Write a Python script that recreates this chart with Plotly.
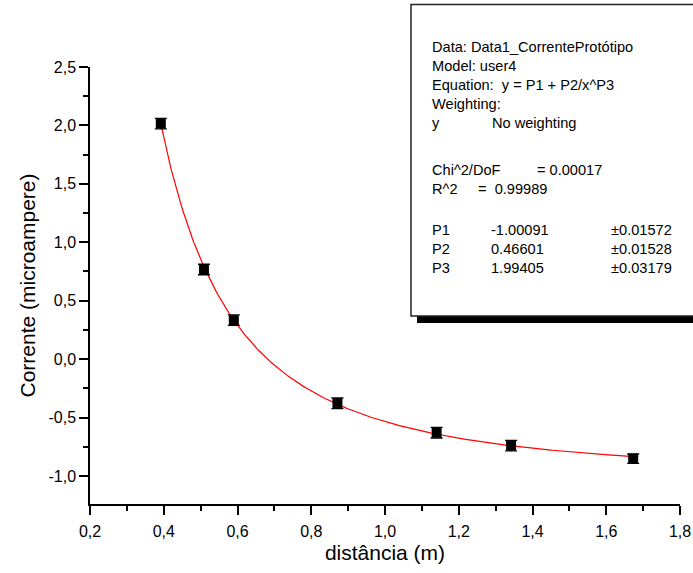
import numpy as np
import plotly.graph_objects as go

# ---- data ----
dist_m = [0.392, 0.509, 0.590, 0.871, 1.140, 1.342, 1.673]
corrente_uA = [2.016, 0.767, 0.333, -0.378, -0.630, -0.740, -0.852]
erro_uA = [0.045, 0.045, 0.045, 0.045, 0.045, 0.045, 0.04]

# fit parameters printed in the chart (y = P1 + P2/x^P3)
P1, P2, P3 = -1.00091, 0.46601, 1.99405

x_ticks = [0.2, 0.4, 0.6, 0.8, 1.0, 1.2, 1.4, 1.6, 1.8]
x_ticktext = ["0,2", "0,4", "0,6", "0,8", "1,0", "1,2", "1,4", "1,6", "1,8"]
y_ticks = [-1.0, -0.5, 0.0, 0.5, 1.0, 1.5, 2.0, 2.5]
y_ticktext = ["-1,0", "-0,5", "0,0", "0,5", "1,0", "1,5", "2,0", "2,5"]
x_minor = [0.3, 0.5, 0.7, 0.9, 1.1, 1.3, 1.5, 1.7]
y_minor = [-0.75, -0.25, 0.25, 0.75, 1.25, 1.75, 2.25]

legend_left = [
    ("Data: Data1_CorrenteProtótipo", 47),
    ("Model: user4", 66),
    ("Equation:  y = P1 + P2/x^P3", 85),
    ("Weighting:", 104),
    ("y", 123),
    ("Chi^2/DoF", 170),
    ("R^2", 189),
    ("P1", 230),
    ("P2", 249),
    ("P3", 268),
]
legend_col2 = [
    ("No weighting", 123, 490),
    ("= 0.00017", 170, 535),
    ("=  0.99989", 189, 476),
    ("-1.00091", 230, 489),
    ("0.46601", 249, 489),
    ("1.99405", 268, 489),
    ("±0.01572", 230, 609),
    ("±0.01528", 249, 609),
    ("±0.03179", 268, 609),
]

FONT = "Liberation Sans, Arial, sans-serif"

W, H = 693, 573
L, R, T, B = 90, 13, 67, 69
pw = W - L - R
ph = H - T - B


def px(xp):
    return (xp - L) / pw


def py(yp):
    return (H - B - yp) / ph


xfit = np.linspace(min(dist_m), max(dist_m), 300)
yfit = P1 + P2 / xfit ** P3

fig = go.Figure()
fig.add_trace(go.Scatter(
    x=xfit, y=yfit, mode="lines",
    line=dict(color="#ff0000", width=1.2), hoverinfo="skip", showlegend=False))
fig.add_trace(go.Scatter(
    x=dist_m, y=corrente_uA, mode="markers",
    marker=dict(symbol="square", size=10, color="black"),
    error_y=dict(type="data", array=erro_uA, color="black", thickness=1.3, width=6),
    showlegend=False))

shapes = [
    dict(type="rect", xref="paper", yref="paper",
         x0=px(417), x1=px(720), y0=py(323), y1=py(316),
         fillcolor="black", line=dict(width=0), layer="above"),
    dict(type="rect", xref="paper", yref="paper",
         x0=px(411), x1=px(720), y0=py(316), y1=py(4.5),
         fillcolor="white", line=dict(color="#222222", width=1.5), layer="above"),
]

annotations = []
for txt, yy in legend_left:
    annotations.append(dict(text=txt, xref="paper", yref="paper", x=px(430), y=py(yy),
                            xanchor="left", yanchor="middle", showarrow=False,
                            font=dict(family=FONT, size=14.6, color="black")))
for txt, yy, xx in legend_col2:
    annotations.append(dict(text=txt, xref="paper", yref="paper", x=px(xx), y=py(yy),
                            xanchor="left", yanchor="middle", showarrow=False,
                            font=dict(family=FONT, size=14.6, color="black")))

fig.update_layout(
    width=W, height=H,
    margin=dict(l=L, r=R, t=T, b=B),
    paper_bgcolor="white", plot_bgcolor="white",
    font=dict(family=FONT, size=16, color="black"),
    shapes=shapes, annotations=annotations,
    xaxis=dict(range=[0.2, 1.8], showgrid=False, zeroline=False, automargin=False,
               showline=True, linecolor="black", linewidth=1.5,
               ticks="outside", ticklen=9, tickwidth=1.5, tickcolor="black",
               tickmode="array", tickvals=x_ticks, ticktext=x_ticktext,
               ticklabelstandoff=3,
               minor=dict(tickvals=x_minor, ticklen=5, tickwidth=1.5, tickcolor="black", ticks="outside"),
               title=dict(text="distância (m)", font=dict(size=21), standoff=6),
               tickfont=dict(size=16)),
    yaxis=dict(range=[-1.24, 2.5], showgrid=False, zeroline=False, automargin=False,
               showline=True, linecolor="black", linewidth=1.5,
               ticks="outside", ticklen=9, tickwidth=1.5, tickcolor="black",
               tickmode="array", tickvals=y_ticks, ticktext=y_ticktext,
               minor=dict(tickvals=y_minor, ticklen=5, tickwidth=1.5, tickcolor="black", ticks="outside"),
               title=dict(text="Corrente (microampere)", font=dict(size=21), standoff=7),
               tickfont=dict(size=16)),
)

fig.write_html("out.html")
